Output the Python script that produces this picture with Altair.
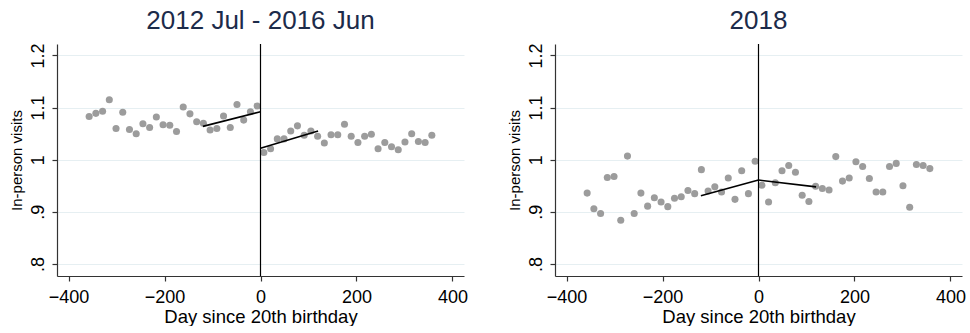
import altair as alt
import pandas as pd

# Bin centres (days since 20th birthday), two-week bins on each side of the cutoff
days_before = [-357, -343, -329, -315, -301, -287, -273, -259, -245, -231, -217, -203, -189,
               -175, -161, -147, -133, -119, -105, -91, -77, -63, -49, -35, -21, -7]
days_after = [7, 21, 35, 49, 63, 77, 91, 105, 119, 133, 147, 161, 175,
              189, 203, 217, 231, 245, 259, 273, 287, 301, 315, 329, 343, 357]

# Mean in-person visits, 2012 Jul - 2016 Jun
visits_a_before = [1.083, 1.089, 1.093, 1.115, 1.060, 1.091, 1.058, 1.050, 1.069, 1.062, 1.082, 1.067, 1.066,
                   1.054, 1.101, 1.088, 1.073, 1.070, 1.057, 1.060, 1.084, 1.062, 1.106, 1.076, 1.092, 1.103]
visits_a_after = [1.014, 1.021, 1.040, 1.040, 1.055, 1.065, 1.047, 1.055, 1.045, 1.032, 1.048, 1.048, 1.068,
                  1.045, 1.033, 1.045, 1.049, 1.021, 1.033, 1.025, 1.019, 1.034, 1.050, 1.035, 1.033, 1.047]

# Mean in-person visits, 2018
visits_b_before = [0.936, 0.906, 0.897, 0.966, 0.968, 0.884, 1.007, 0.897, 0.936, 0.911, 0.927, 0.919, 0.910,
                   0.926, 0.929, 0.941, 0.935, 0.981, 0.940, 0.948, 0.938, 0.965, 0.924, 0.979, 0.935, 0.997]
visits_b_after = [0.951, 0.919, 0.956, 0.979, 0.989, 0.976, 0.932, 0.920, 0.949, 0.945, 0.942, 1.006, 0.959,
                  0.965, 0.996, 0.987, 0.964, 0.938, 0.938, 0.987, 0.993, 0.950, 0.909, 0.991, 0.989, 0.983]

# Local linear fits within 120 days of the cutoff: (start day, end day, start value, end value)
fit_a = {"before": (-120, 0, 1.064, 1.092), "after": (0, 120, 1.022, 1.055)}
fit_b = {"before": (-120, 0, 0.931, 0.961), "after": (0, 120, 0.961, 0.948)}

x_ticks = [-400, -200, 0, 200, 400]
y_ticks = [0.8, 0.9, 1.0, 1.1, 1.2]
x_domain = [-424, 424]
y_domain = [0.777, 1.222]

FONT = "Liberation Sans"
POINT_COLOR = "#9c9c9c"
AXIS_COLOR = "#333333"
GRID_COLOR = "#e6eff2"


def panel(title, before, after, fit):
    pts = pd.DataFrame({"day": days_before + days_after, "visits": before + after})
    rows = []
    for side, (x0, x1, y0, y1) in fit.items():
        rows.append({"side": side, "day": x0, "visits": y0})
        rows.append({"side": side, "day": x1, "visits": y1})
    fits = pd.DataFrame(rows)

    x = alt.X("day:Q", scale=alt.Scale(domain=x_domain, nice=False, zero=False),
              axis=alt.Axis(values=x_ticks, grid=False, title="Day since 20th birthday",
                            labelFontSize=18, titleFontSize=18.5, labelPadding=7, titlePadding=1,
                            labelFlush=False))
    y = alt.Y("visits:Q", scale=alt.Scale(domain=y_domain, nice=False, zero=False),
              axis=alt.Axis(values=y_ticks, grid=True, title="In-person visits",
                            labelExpr="datum.value == 1 ? '1' : replace(format(datum.value, '.1f'), '0.', '.')",
                            labelAngle=270, labelAlign="center", labelBaseline="alphabetic",
                            labelFontSize=18, titleFontSize=15, labelPadding=9, titlePadding=5,
                            labelFlush=False))

    dots = alt.Chart(pts).mark_circle(size=50, color=POINT_COLOR, opacity=1).encode(x=x, y=y)
    lines = alt.Chart(fits).mark_line(color="black", strokeWidth=1.6).encode(
        x="day:Q", y="visits:Q", detail="side:N")
    cutoff = alt.Chart(pd.DataFrame({"day": [0]})).mark_rule(color="black", strokeWidth=1.2).encode(
        x="day:Q")

    return alt.layer(dots, lines, cutoff).properties(
        width=407, height=232,
        title=alt.TitleParams(title, fontSize=26, font=FONT, fontWeight="normal",
                              color="#1c2b4a", offset=9))


chart = alt.hconcat(
    panel("2012 Jul - 2016 Jun", visits_a_before, visits_a_after, fit_a),
    panel("2018", visits_b_before, visits_b_after, fit_b),
    spacing=39,
).properties(
    padding={"left": 9, "top": 7, "right": 0, "bottom": 0},
    background="white",
).configure_view(
    stroke=None
).configure_axis(
    domainColor=AXIS_COLOR, tickColor=AXIS_COLOR, gridColor=GRID_COLOR, gridWidth=1,
    labelColor="black", titleColor="black", labelFont=FONT, titleFont=FONT,
    titleFontWeight="normal", tickSize=5, domainWidth=1.2, tickWidth=1.2
)

chart.save("out.html", embed_options={"renderer": "svg", "actions": False})
